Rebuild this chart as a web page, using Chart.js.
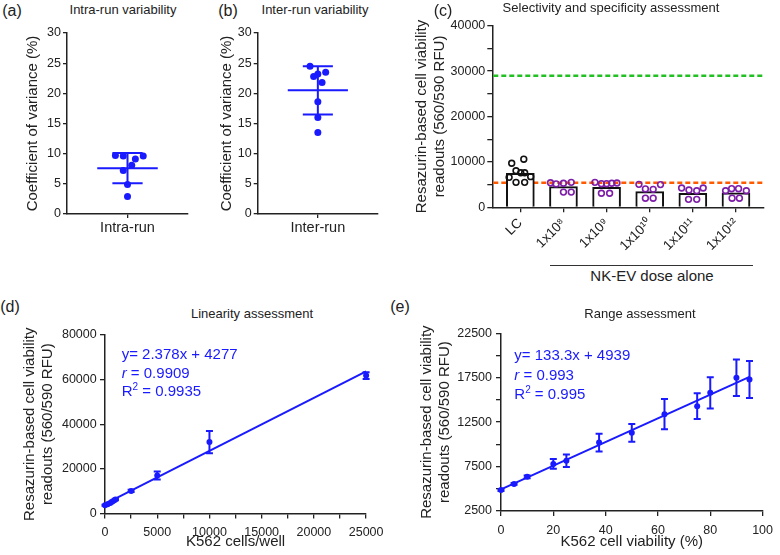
<!DOCTYPE html>
<html>
<head>
<meta charset="utf-8">
<script src="https://cdn.jsdelivr.net/npm/chart.js@4.4.1/dist/chart.umd.min.js"></script>
<style>
body { margin: 0; width: 780px; height: 555px; background: #fff; position: relative; overflow: hidden;
  font-family: "Liberation Sans", Arial, sans-serif; color: #222; }
canvas { position: absolute; }
.t { position: absolute; white-space: nowrap; transform: translate(-50%, -50%); line-height: 1; }
.lbl { font-size: 16px; }
.ttl { font-size: 13px; }
.fit { position: absolute; color: #1a1aff; font-size: 15px; white-space: nowrap; }
.sup { font-size: 10px; position: relative; top: -6px; }
.bracket { position: absolute; left: 550px; top: 265px; width: 203px; border-top: 1.5px solid #333; }
</style>
</head>
<body>
<canvas id="ca" width="200" height="240" style="left:0;top:20px"></canvas>
<canvas id="cb" width="190" height="240" style="left:200px;top:20px"></canvas>
<canvas id="cc" width="380" height="245" style="left:400px;top:15px"></canvas>
<canvas id="cd" width="390" height="233" style="left:0;top:322px"></canvas>
<canvas id="ce" width="390" height="235" style="left:390px;top:320px"></canvas>

<div class="t lbl" style="left:12px;top:11px">(a)</div>
<div class="t ttl" style="left:123px;top:8.5px">Intra-run variability</div>
<div class="t lbl" style="left:228px;top:11px">(b)</div>
<div class="t ttl" style="left:315px;top:8.5px">Inter-run variability</div>
<div class="t lbl" style="left:443px;top:11px">(c)</div>
<div class="t ttl" style="left:611px;top:6.7px">Selectivity and specificity assessment</div>
<div class="bracket"></div>
<div class="t" style="left:652px;top:275px;font-size:15px">NK-EV dose alone</div>

<div class="t lbl" style="left:10px;top:307px">(d)</div>
<div class="t ttl" style="left:252px;top:313px">Linearity assessment</div>
<div class="fit" style="left:121.7px;top:345px;line-height:18.7px">y= 2.378x + 4277<br><i>r</i> = 0.9909<br>R<span class="sup">2</span> = 0.9935</div>

<div class="t lbl" style="left:400px;top:307px">(e)</div>
<div class="t ttl" style="left:640px;top:313px">Range assessment</div>
<div class="fit" style="left:514.3px;top:345px;line-height:19.5px">y= 133.3x + 4939<br><i>r</i> = 0.993<br>R<span class="sup">2</span> = 0.995</div>

<script>
// (a) intra-run coefficient of variance (%)
const intraCV = [9.7, 9.6, 9.1, 9.6, 8.1, 7.2, 4.9, 2.9];
const intraJitter = [-0.2, -0.07, 0.13, 0.26, 0.07, -0.07, 0, 0];
const intraMean = 7.6;
const intraSD = 2.5;

// (b) inter-run coefficient of variance (%)
const interCV = [24.5, 23.2, 23.5, 22.8, 21.8, 18.6, 16.0, 13.5];
const interJitter = [-0.13, 0, 0.13, -0.07, 0.07, 0, 0, 0];
const interMean = 20.5;
const interSD = 4.0;

// (c) selectivity / specificity, RFU
const doseLabels = ['LC', '1x10⁸', '1x10⁹', '1x10¹⁰', '1x10¹¹', '1x10¹²'];
const doseMeans = [7500, 4550, 4400, 3450, 3100, 3200];
const doseReplicates = [
	[9700, 10600, 8050, 7600, 7600, 6600, 6750, 5500, 5500],
	[5400, 5150, 5300, 5500, 3350, 3350],
	[5500, 5200, 5200, 5300, 5350, 3100, 3100],
	[5050, 4050, 3950, 5000, 2000, 2000],
	[4250, 3800, 3650, 4250, 1750, 1750],
	[3650, 4100, 4100, 3650, 2000, 2000],
];
const doseJitter = [
	[-0.2, 0.08, -0.1, 0.01, 0.1, -0.26, 0.24, -0.1, 0.1],
	[-0.3, -0.17, 0, 0.18, 0, 0.18],
	[-0.27, -0.12, 0, 0.12, 0.24, -0.12, 0.07],
	[-0.25, -0.1, 0.08, 0.25, -0.1, 0.08],
	[-0.26, -0.09, 0.09, 0.24, -0.1, 0.09],
	[-0.24, -0.1, 0.06, 0.24, -0.09, 0.08],
];
const positiveRef = 29000;
const negativeRef = 5400;

// (d) linearity
const cellsPerWell = [0, 250, 500, 750, 1000, 2500, 5000, 10000, 25000];
const linRFU = [3700, 4150, 4750, 5500, 6250, 10100, 17000, 32000, 61800];
const linSD = [250, 250, 250, 300, 350, 500, 1800, 5000, 1500];
const linFitX = [0, 25000];
const linFitY = [4277, 63727];

// (e) range
const viability = [0, 5, 10, 20, 25, 37.5, 50, 62.5, 75, 80, 90, 95];
const rangeRFU = [4850, 5550, 6350, 7800, 8150, 10200, 11300, 13400, 14300, 15800, 17500, 17300];
const rangeSD = [100, 100, 150, 550, 700, 1000, 1000, 1700, 1450, 1750, 2050, 2070];
const rangeFitX = [0, 95];
const rangeFitY = [4939, 17603];

const blue = '#1a1aff';
const purple = '#7d1ea8';
const axisColor = '#222';
const yTitle = ['Resazurin-based cell viability', 'readouts (560/590 RFU)'];

Chart.defaults.font.family = '"Liberation Sans", Arial, sans-serif';
Chart.defaults.color = '#222';

function valueAxis(o) {
	return {
		type: 'linear',
		min: o.min,
		max: o.max,
		offset: false,
		grid: {
			display: true,
			drawOnChartArea: false,
			drawTicks: true,
			offset: false,
			tickLength: o.tick ?? 5,
			color: axisColor,
			lineWidth: 1.3,
		},
		border: { display: true, color: axisColor, width: 1.5 },
		ticks: {
			stepSize: o.step,
			autoSkip: false,
			includeBounds: false,
			color: '#222',
			font: { size: o.fontSize ?? 12.5 },
			padding: o.pad ?? 3,
			maxRotation: o.rot ?? 0,
			minRotation: o.rot ?? 0,
			callback: o.fmt ?? ((v) => String(v)),
		},
		title: o.title
			? {
					display: true,
					text: o.title,
					color: '#222',
					font: { size: 15, lineHeight: 18 / 15 },
					padding: o.titlePad,
			  }
			: { display: false },
		afterBuildTicks: o.ticksAt
			? (s) => {
					s.ticks = o.ticksAt.map((v) => ({ value: v }));
			  }
			: undefined,
		afterFit: (s) => {
			if (o.width != null) s.width = o.width;
			if (o.height != null) s.height = o.height;
		},
	};
}

function baseOptions(padding, scales) {
	return {
		responsive: false,
		animation: false,
		events: [],
		layout: { padding },
		plugins: { legend: { display: false }, tooltip: { enabled: false } },
		scales,
	};
}

// mean line with SD whiskers, drawn at the category centre (x = 0)
function meanSD(mean, sd) {
	return {
		id: 'meanSD',
		afterDatasetsDraw(chart) {
			const { ctx, scales: { x, y } } = chart;
			const cx = x.getPixelForValue(0);
			const half = x.getPixelForValue(0.5) - cx;
			const cap = x.getPixelForValue(0.25) - cx;
			const ym = y.getPixelForValue(mean);
			const yt = y.getPixelForValue(mean + sd);
			const yb = y.getPixelForValue(mean - sd);
			ctx.save();
			ctx.strokeStyle = blue;
			ctx.lineWidth = 2;
			ctx.beginPath();
			ctx.moveTo(cx - half, ym); ctx.lineTo(cx + half, ym);
			ctx.moveTo(cx, yt); ctx.lineTo(cx, yb);
			ctx.moveTo(cx - cap, yt); ctx.lineTo(cx + cap, yt);
			ctx.moveTo(cx - cap, yb); ctx.lineTo(cx + cap, yb);
			ctx.stroke();
			ctx.restore();
		},
	};
}

function errorBars(xs, ys, sds) {
	return {
		id: 'errorBars',
		afterDatasetsDraw(chart) {
			const { ctx, scales: { x, y } } = chart;
			ctx.save();
			ctx.strokeStyle = blue;
			ctx.lineWidth = 2;
			xs.forEach((xv, i) => {
				const px = x.getPixelForValue(xv);
				const top = y.getPixelForValue(ys[i] + sds[i]);
				const bot = y.getPixelForValue(ys[i] - sds[i]);
				ctx.beginPath();
				ctx.moveTo(px, top); ctx.lineTo(px, bot);
				ctx.moveTo(px - 3.5, top); ctx.lineTo(px + 3.5, top);
				ctx.moveTo(px - 3.5, bot); ctx.lineTo(px + 3.5, bot);
				ctx.stroke();
			});
			ctx.restore();
		},
	};
}

function refLines(lines) {
	return {
		id: 'refLines',
		beforeDatasetsDraw(chart) {
			const { ctx, chartArea, scales: { y } } = chart;
			ctx.save();
			ctx.lineWidth = 2.5;
			ctx.setLineDash([5, 3]);
			lines.forEach(({ value, color }) => {
				const py = y.getPixelForValue(value);
				ctx.strokeStyle = color;
				ctx.beginPath();
				ctx.moveTo(chartArea.left + 1, py);
				ctx.lineTo(chartArea.right, py);
				ctx.stroke();
			});
			ctx.restore();
		},
	};
}

function cvChart(id, values, jitter, label, mean, sd, yWidth, titlePad) {
	new Chart(document.getElementById(id), {
		type: 'scatter',
		data: {
			datasets: [
				{
					data: values.map((v, i) => ({ x: jitter[i], y: v })),
					pointRadius: 3.5,
					pointBorderWidth: 0,
					pointBackgroundColor: blue,
					clip: false,
				},
			],
		},
		options: baseOptions({ top: 13, right: 12, left: 0, bottom: 0 }, {
			x: valueAxis({ min: -1, max: 1, ticksAt: [0], fmt: () => label, fontSize: 14.5, tick: 4, pad: 1, height: 46 }),
			y: valueAxis({
				min: 0, max: 30, step: 5, tick: 4, pad: 2, width: yWidth,
				title: 'Coefficient of variance (%)', titlePad: { top: titlePad, bottom: 0 },
			}),
		}),
		plugins: [meanSD(mean, sd)],
	});
}

cvChart('ca', intraCV, intraJitter, 'Intra-run', intraMean, intraSD, 67, 24);
cvChart('cb', interCV, interJitter, 'Inter-run', interMean, interSD, 57.7, 18);

// (c)
new Chart(document.getElementById('cc'), {
	type: 'bar',
	data: {
		datasets: [
			{
				type: 'bar',
				data: doseMeans.map((v, i) => ({ x: i, y: v })),
				backgroundColor: '#fff',
				borderColor: '#111',
				borderWidth: 2,
				barThickness: 28,
				order: 2,
			},
			...doseReplicates.map((vals, g) => ({
				type: 'scatter',
				data: vals.map((v, k) => ({ x: g + doseJitter[g][k], y: v })),
				pointRadius: 2.9,
				pointBorderWidth: 1.6,
				pointBorderColor: g === 0 ? '#111' : purple,
				pointBackgroundColor: 'rgba(255,255,255,0)',
				order: 1,
				clip: false,
			})),
		],
	},
	options: baseOptions({ top: 10.7, right: 16, left: 0, bottom: 0 }, {
		x: valueAxis({
			min: -0.65, max: 5.65, ticksAt: doseLabels.map((_, i) => i),
			fmt: (v) => doseLabels[v], fontSize: 13.5, rot: 45, pad: 3, height: 52.7,
		}),
		y: valueAxis({
			min: 0, max: 40000, step: 5000, pad: 2, width: 92.3,
			fmt: (v) => (v % 10000 === 0 ? String(v) : ''),
			title: yTitle, titlePad: { top: 12.7, bottom: 0 },
		}),
	}),
	plugins: [refLines([
		{ value: positiveRef, color: '#22c022' },
		{ value: negativeRef, color: '#ff5a00' },
	])],
});

function fitChart(id, xs, ys, sds, fitX, fitY, xAxis, yAxis, padding) {
	new Chart(document.getElementById(id), {
		type: 'scatter',
		data: {
			datasets: [
				{
					data: xs.map((x, i) => ({ x, y: ys[i] })),
					pointRadius: 3,
					pointBorderWidth: 0,
					pointBackgroundColor: blue,
					clip: false,
				},
				{
					type: 'line',
					data: fitX.map((x, i) => ({ x, y: fitY[i] })),
					borderColor: blue,
					borderWidth: 2,
					pointRadius: 0,
					clip: false,
				},
			],
		},
		options: baseOptions(padding, { x: valueAxis(xAxis), y: valueAxis(yAxis) }),
		plugins: [errorBars(xs, ys, sds)],
	});
}

// (d)
fitChart('cd', cellsPerWell, linRFU, linSD, linFitX, linFitY,
	{
		min: 0, max: 25000, step: 2500, pad: 6.5, height: 41.5,
		fmt: (v) => (v % 5000 === 0 ? String(v) : ''),
		title: 'K562 cells/well', titlePad: { top: 0, bottom: 4 },
	},
	{
		min: 0, max: 80000, step: 20000, pad: 3.3, width: 105,
		title: yTitle, titlePad: { top: 21, bottom: 0 },
	},
	{ top: 13, right: 18.3, left: 0, bottom: 0 });

// (e)
fitChart('ce', viability, rangeRFU, rangeSD, rangeFitX, rangeFitY,
	{
		min: 0, max: 100, step: 20, pad: 7, height: 44,
		title: 'K562 cell viability (%)', titlePad: { top: 0, bottom: 4 },
	},
	{
		min: 2500, max: 22500, step: 2500, pad: 4, width: 111,
		fmt: (v) => ((v - 2500) % 5000 === 0 ? String(v) : ''),
		title: yTitle, titlePad: { top: 28, bottom: 0 },
	},
	{ top: 13.3, right: 11.7, left: 0, bottom: 0 });
</script>
</body>
</html>
